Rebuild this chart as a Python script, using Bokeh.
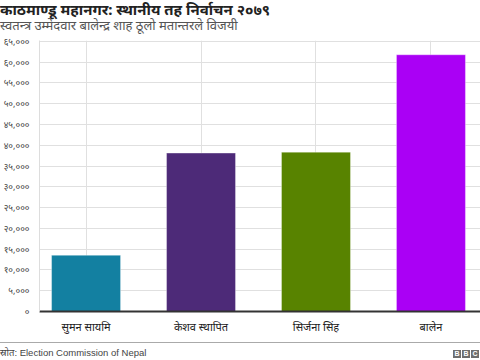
from bokeh.plotting import figure
from bokeh.models import Range1d, FixedTicker, ColumnDataSource, Div
from bokeh.layouts import column
from bokeh.embed import file_html
from bokeh.resources import INLINE

# ---- data ----
candidates = ["सुमन सायमि", "केशव स्थापित", "सिर्जना सिंह", "बालेन"]
votes = [13539, 38117, 38341, 61767]
bar_colors = ["#1380A1", "#4D2A78", "#588300", "#AA00F5"]
ytick_values = [0, 5000, 10000, 15000, 20000, 25000, 30000, 35000,
                40000, 45000, 50000, 55000, 60000, 65000]
ytick_labels = ["०", "५,०००", "१०,०००", "१५,०००", "२०,०००", "२५,०००", "३०,०००",
                "३५,०००", "४०,०००", "४५,०००", "५०,०००", "५५,०००", "६०,०००", "६५,०००"]
title_text = "काठमाण्डू महानगर: स्थानीय तह निर्वाचन २०७९"
subtitle_text = "स्वतन्त्र उम्मेदवार बालेन्द्र शाह ठूलो मतान्तरले विजयी"
source_text = "स्रोत: Election Commission of Nepal"
logo_letters = ["B", "B", "C"]

FONT = "Noto Sans"
positions = list(range(len(candidates)))

# ---- header (HTML text) ----
header_html = (
    '<div style="width:480px;height:34px;margin:0;padding:0;">'
    f'<div style="font-family:\'Noto Sans\';font-weight:bold;font-size:15px;'
    f'line-height:18px;color:#222;white-space:nowrap;">{title_text}</div>'
    f'<div style="font-family:\'Noto Sans\';font-size:13px;line-height:15px;'
    f'color:#555;white-space:nowrap;">{subtitle_text}</div>'
    '</div>'
)
header = Div(text=header_html, width=480, height=34, styles={"margin": "0", "padding": "0"})

# ---- main chart ----
src = ColumnDataSource(dict(x=positions, votes=votes, color=bar_colors, name=candidates))

p = figure(width=480, height=308, output_backend="svg", toolbar_location=None,
           x_range=Range1d(-0.405, 3.431), y_range=Range1d(0, 65200),
           min_border_left=35, min_border_right=0, min_border_top=6, min_border_bottom=31)
p.outline_line_color = None
p.background_fill_color = "white"
p.border_fill_color = "white"

p.vbar(x="x", top="votes", width=0.6, color="color", line_color="white",
       line_alpha=0.35, line_width=1, source=src)

p.xaxis.ticker = FixedTicker(ticks=positions)
p.xaxis.major_label_overrides = {i: c for i, c in zip(positions, candidates)}
p.xaxis.major_label_text_font = FONT
p.xaxis.major_label_text_font_size = "11px"
p.xaxis.major_label_text_color = "#222222"
p.xaxis.major_tick_line_color = None
p.xaxis.minor_tick_line_color = None
p.xaxis.axis_line_color = "#333333"
p.xaxis.axis_line_width = 2
p.xaxis.major_label_standoff = 1

p.yaxis.ticker = FixedTicker(ticks=ytick_values)
p.yaxis.major_label_overrides = {v: l for v, l in zip(ytick_values, ytick_labels)}
p.yaxis.major_label_text_font = FONT
p.yaxis.major_label_text_font_size = "9px"
p.yaxis.major_label_text_color = "#444444"
p.yaxis.major_tick_line_color = None
p.yaxis.minor_tick_line_color = None
p.yaxis.axis_line_color = "#dddddd"
p.yaxis.major_label_standoff = 4

p.xgrid.ticker = FixedTicker(ticks=positions)
p.xgrid.grid_line_color = "#e0e0e0"
p.ygrid.ticker = FixedTicker(ticks=ytick_values)
p.ygrid.grid_line_color = "#e0e0e0"

# ---- footer (HTML text) ----
logo_html = "".join(
    '<span style="display:inline-block;width:8px;height:8px;margin-left:1px;'
    'background:#6e6e6e;color:#fff;font-family:\'Liberation Sans\';font-weight:bold;'
    f'font-size:7px;line-height:8px;text-align:center;">{ch}</span>'
    for ch in logo_letters
)
footer_html = (
    '<div style="width:480px;height:17px;border-top:1px solid #aaaaaa;display:flex;'
    'justify-content:space-between;align-items:center;padding-top:3px;box-sizing:border-box;'
    'font-family:\'Liberation Sans\',\'Noto Sans\';font-size:9.5px;color:#444;margin:0;">'
    f'<span style="white-space:nowrap;">{source_text}</span>'
    f'<span style="white-space:nowrap;margin-right:1px;">{logo_html}</span>'
    '</div>'
)
footer = Div(text=footer_html, width=480, height=18, styles={"margin": "0", "padding": "0"})

layout = column(header, p, footer, spacing=0)
open("out.html", "w").write(file_html(layout, INLINE))
